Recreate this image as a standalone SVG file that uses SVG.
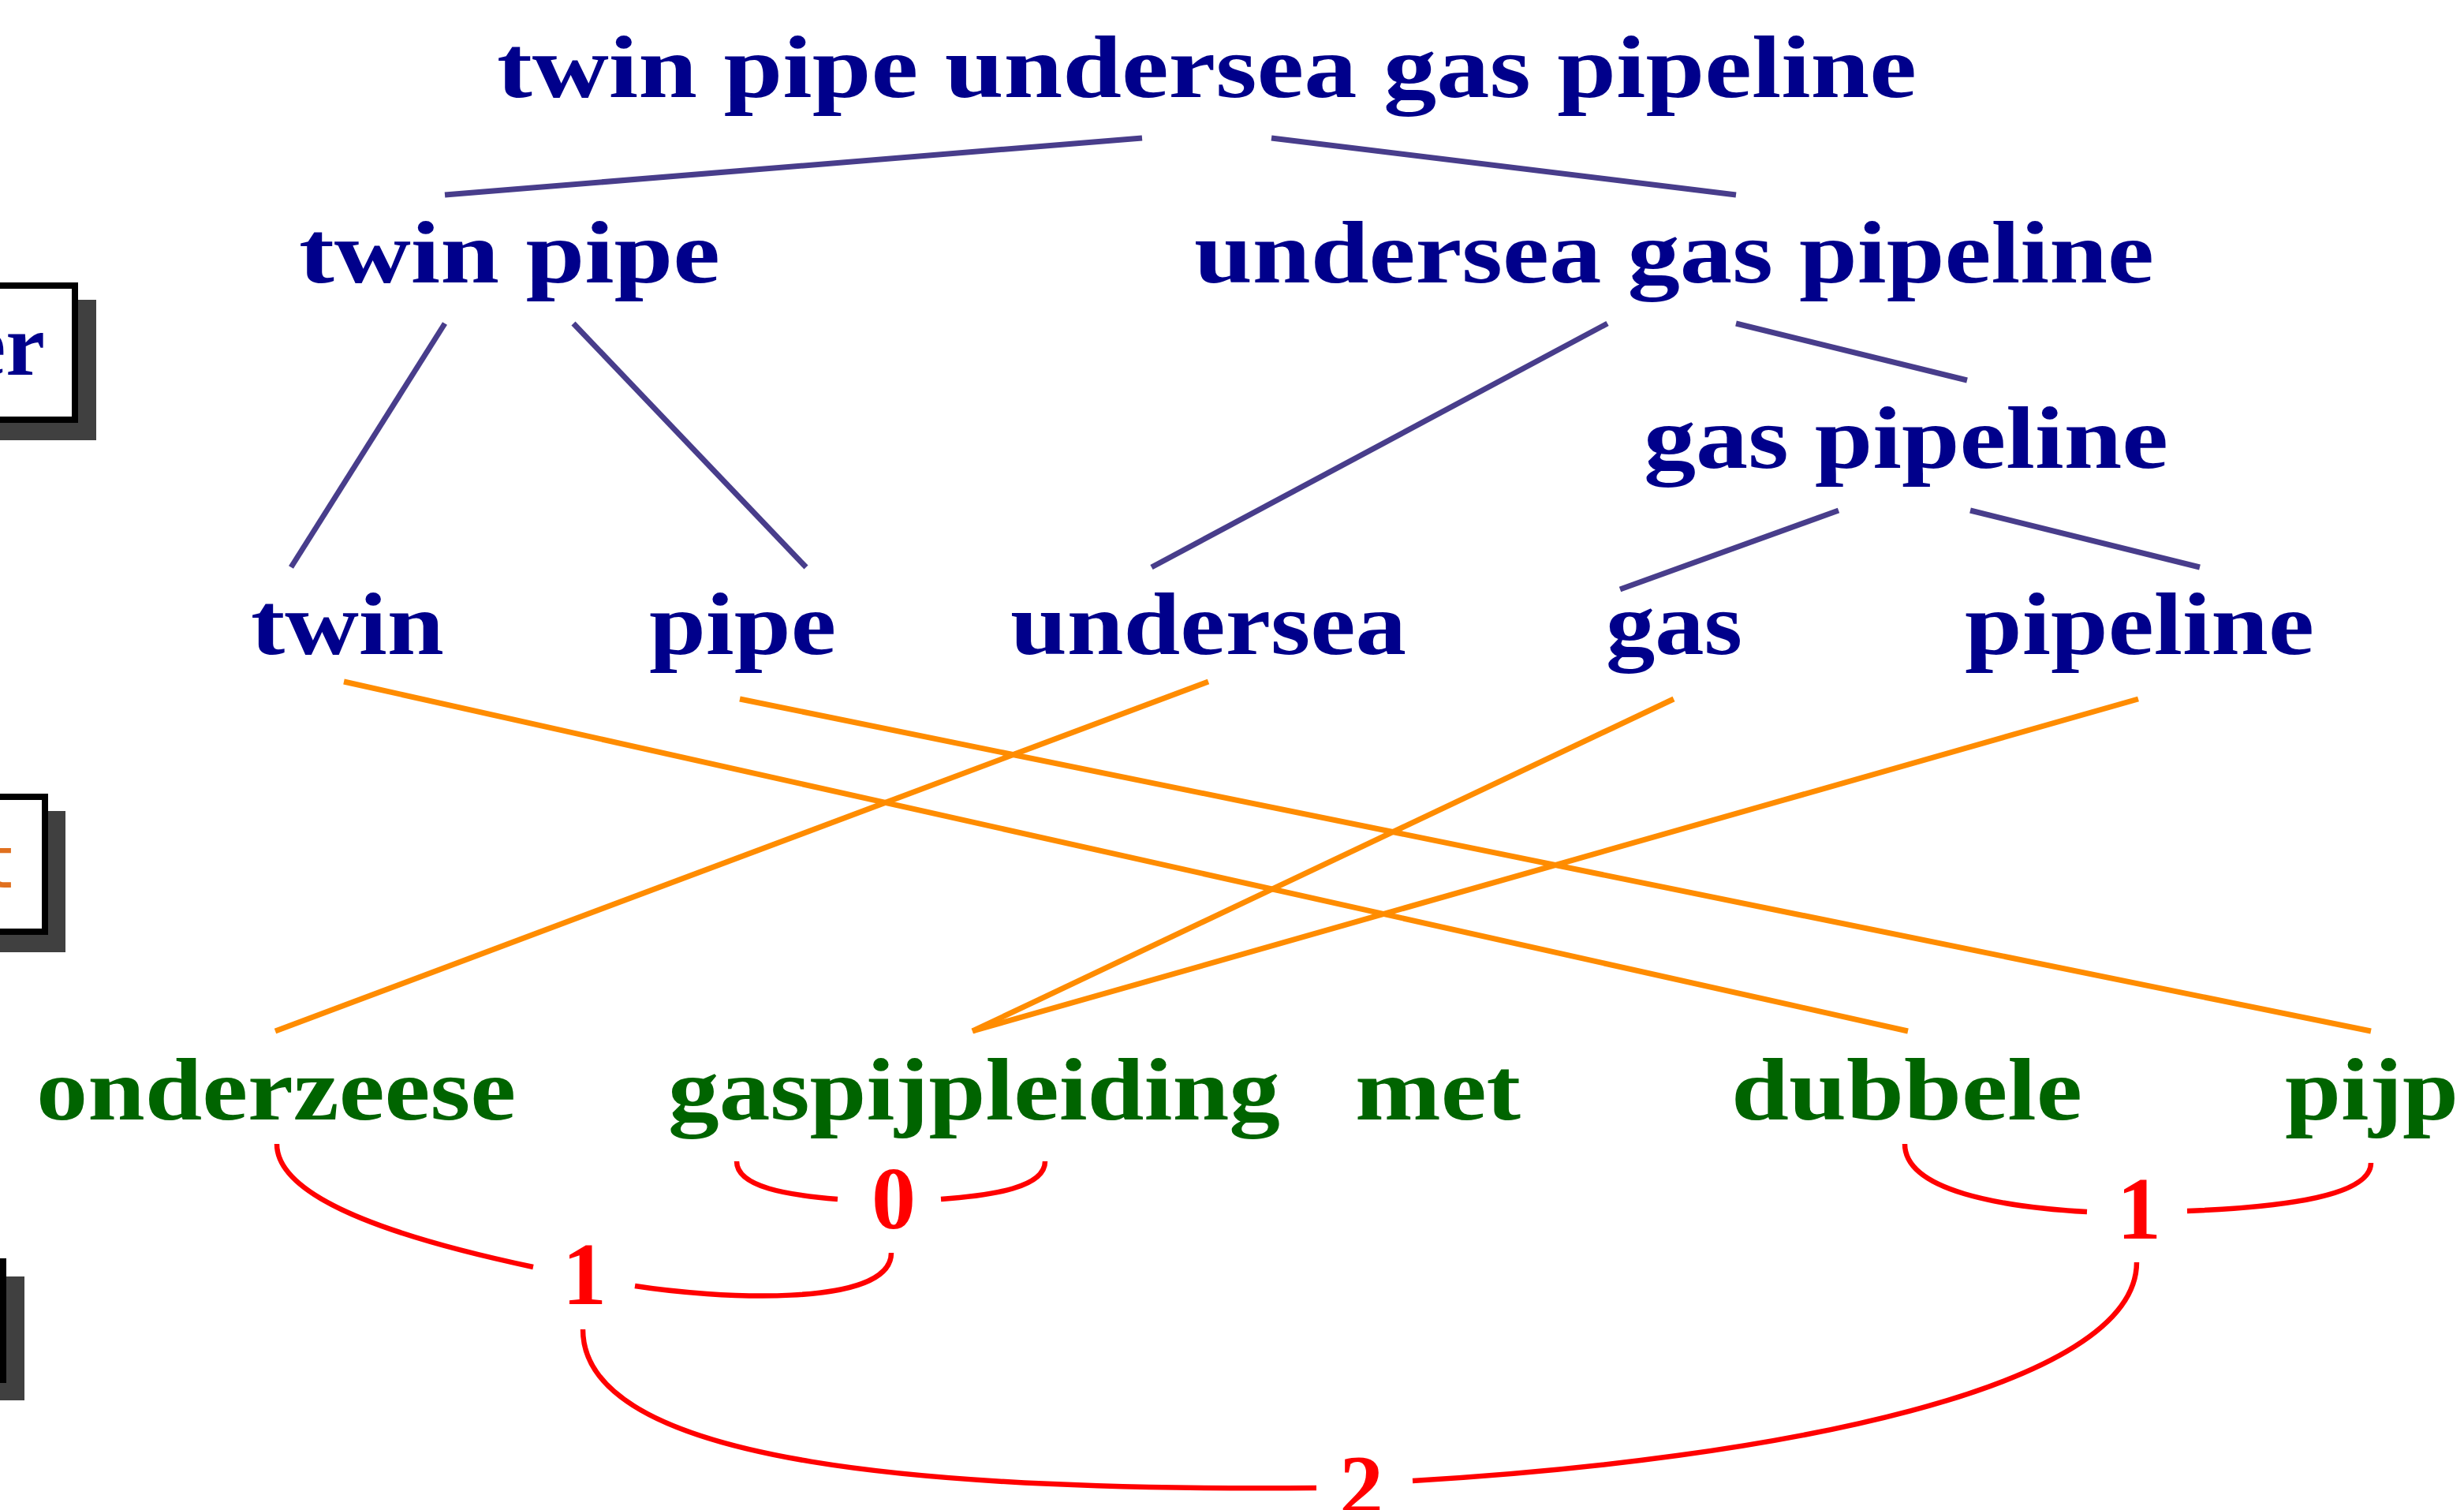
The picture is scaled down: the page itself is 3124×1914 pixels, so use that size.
<svg xmlns="http://www.w3.org/2000/svg" width="3124" height="1914" viewBox="0 0 3124 1914">
  <style>
    .lbl { font-family: "Liberation Serif", "DejaVu Serif", serif; font-weight: bold; font-size: 112px; }
    .en { fill: #00008B; }
    .nl { fill: #006400; }
    .num { fill: #FF0000; text-anchor: middle; }
    .tree { stroke: #483D8B; stroke-width: 7; fill: none; }
    .align { stroke: #FF8C00; stroke-width: 7; fill: none; }
    .dep { stroke: #FF0000; stroke-width: 6.5; fill: none; }
    .shadow { fill: #404040; }
    .frame { fill: #FFFFFF; stroke: #000000; stroke-width: 8; }
  </style>

  <!-- row labels at the left margin (boxes run off the page edge) -->
  <g id="legend-en">
    <rect class="shadow" x="-100" y="380" width="222" height="178"/>
    <rect class="frame" x="-100" y="362" width="195" height="170"/>
    <text class="lbl en" x="57" y="475" text-anchor="end">er</text>
  </g>
  <g id="legend-align">
    <rect class="shadow" x="-100" y="1028" width="183" height="179"/>
    <rect class="frame" x="-100" y="1010" width="157" height="171"/>
    <text x="16" y="1125" text-anchor="end" font-family="DejaVu Sans, sans-serif" font-size="90" fill="#E0701F">t</text>
  </g>
  <g id="legend-nl">
    <rect class="shadow" x="-200" y="1618" width="231" height="157"/>
    <rect class="frame" x="-200" y="1599" width="204" height="150"/>
  </g>

  <!-- connectors -->
  <g id="connectors">
    <!-- English constituency tree -->
    <line class="tree" x1="1448" y1="175" x2="564" y2="247"/>
    <line class="tree" x1="1612" y1="175" x2="2201" y2="247"/>
    <line class="tree" x1="564" y1="410" x2="369" y2="719"/>
    <line class="tree" x1="727" y1="410" x2="1022" y2="719"/>
    <line class="tree" x1="2038" y1="410" x2="1460" y2="719"/>
    <line class="tree" x1="2201" y1="410" x2="2494" y2="482"/>
    <line class="tree" x1="2331" y1="647" x2="2054" y2="747"/>
    <line class="tree" x1="2498" y1="647" x2="2789" y2="719"/>

    <!-- word alignment -->
    <line class="align" x1="436" y1="864" x2="2419" y2="1307"/>
    <line class="align" x1="938" y1="886" x2="3006" y2="1307"/>
    <line class="align" x1="1532" y1="864" x2="349" y2="1307"/>
    <line class="align" x1="2122" y1="886" x2="1233" y2="1307"/>
    <line class="align" x1="2711" y1="886" x2="1233" y2="1307"/>

    <!-- Dutch bracketing with levels -->
    <path class="dep" d="M351,1450 C351,1525 530,1575 676,1606"/>
    <path class="dep" d="M805,1630 C900,1645 1130,1660 1130,1588"/>
    <path class="dep" d="M934,1472 C934,1505 1000,1515 1062,1520"/>
    <path class="dep" d="M1193,1520 C1260,1515 1325,1505 1325,1472"/>
    <path class="dep" d="M2415,1450 C2415,1510 2540,1530 2646,1536"/>
    <path class="dep" d="M2773,1535 C2900,1530 3006,1515 3006,1474"/>
    <path class="dep" d="M2709,1600 C2709,1760 2250,1850 1791,1877"/>
    <path class="dep" d="M739,1685 C739,1860 1200,1890 1669,1886"/>
  </g>

  <!-- English tree nodes -->
  <g id="en-root"><text class="lbl en" x="630" y="123" textLength="1800" lengthAdjust="spacingAndGlyphs">twin pipe undersea gas pipeline</text></g>
  <g id="en-twin-pipe"><text class="lbl en" x="379" y="358" textLength="534" lengthAdjust="spacingAndGlyphs">twin pipe</text></g>
  <g id="en-undersea-gas-pipeline"><text class="lbl en" x="1514" y="358" textLength="1217" lengthAdjust="spacingAndGlyphs">undersea gas pipeline</text></g>
  <g id="en-gas-pipeline"><text class="lbl en" x="2084" y="593" textLength="665" lengthAdjust="spacingAndGlyphs">gas pipeline</text></g>
  <g id="en-twin"><text class="lbl en" x="318" y="829" textLength="245" lengthAdjust="spacingAndGlyphs">twin</text></g>
  <g id="en-pipe"><text class="lbl en" x="823" y="829" textLength="237" lengthAdjust="spacingAndGlyphs">pipe</text></g>
  <g id="en-undersea"><text class="lbl en" x="1281" y="829" textLength="502" lengthAdjust="spacingAndGlyphs">undersea</text></g>
  <g id="en-gas"><text class="lbl en" x="2036" y="829" textLength="173" lengthAdjust="spacingAndGlyphs">gas</text></g>
  <g id="en-pipeline"><text class="lbl en" x="2491" y="829" textLength="443" lengthAdjust="spacingAndGlyphs">pipeline</text></g>

  <!-- Dutch words -->
  <g id="nl-onderzeese"><text class="lbl nl" x="46" y="1419" textLength="608" lengthAdjust="spacingAndGlyphs">onderzeese</text></g>
  <g id="nl-gaspijpleiding"><text class="lbl nl" x="847" y="1419" textLength="776" lengthAdjust="spacingAndGlyphs">gaspijpleiding</text></g>
  <g id="nl-met"><text class="lbl nl" x="1718" y="1419" textLength="210" lengthAdjust="spacingAndGlyphs">met</text></g>
  <g id="nl-dubbele"><text class="lbl nl" x="2195" y="1419" textLength="445" lengthAdjust="spacingAndGlyphs">dubbele</text></g>
  <g id="nl-pijp"><text class="lbl nl" x="2897" y="1419" textLength="220" lengthAdjust="spacingAndGlyphs">pijp</text></g>

  <!-- bracket level labels -->
  <g id="lvl-0"><text class="lbl num" x="1133" y="1557">0</text></g>
  <g id="lvl-1a"><text class="lbl num" x="741" y="1653">1</text></g>
  <g id="lvl-1b"><text class="lbl num" x="2712" y="1570">1</text></g>
  <g id="lvl-2"><text class="lbl num" x="1726" y="1922">2</text></g>
</svg>
